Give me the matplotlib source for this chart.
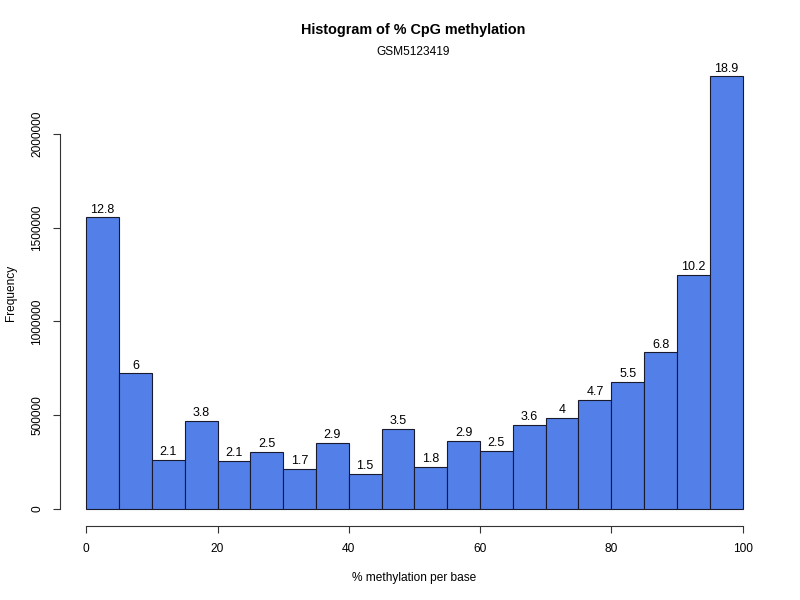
import matplotlib.pyplot as plt
import numpy as np

plt.rcParams["font.family"] = ["Liberation Sans", "DejaVu Sans"]

# histogram of % CpG methylation, bins of 5%
bin_edges = list(range(0, 105, 5))
counts = [1557000, 725000, 261000, 469000, 256000, 304000, 213000, 352000,
          187000, 427000, 224000, 363000, 309000, 448000, 485000, 581000,
          677000, 837000, 1248000, 2309000]
pct_labels = ["12.8", "6", "2.1", "3.8", "2.1", "2.5", "1.7", "2.9", "1.5", "3.5",
              "1.8", "2.9", "2.5", "3.6", "4", "4.7", "5.5", "6.8", "10.2", "18.9"]

fig = plt.figure(figsize=(8, 6), dpi=100)
ax = fig.add_axes([0.075, 0.123, 0.886, 0.779])

lefts = np.array(bin_edges[:-1])
widths = np.diff(bin_edges)
ax.bar(lefts, counts, width=widths, align="edge", color="#527FE8",
       edgecolor="#1a1a2e", linewidth=0.8)

for x, w, c, lab in zip(lefts, widths, counts, pct_labels):
    ax.text(x + w / 2, c + 8000, lab, ha="center", va="bottom", fontsize=9)

ax.set_xlim(-4, 104)
ax.set_ylim(-0.04 * 2309000, 2309000 * 1.04)

for side in ["top", "right"]:
    ax.spines[side].set_visible(False)
ax.spines["left"].set_bounds(0, 2000000)
ax.spines["bottom"].set_bounds(0, 100)
ax.spines["left"].set_color("#333333")
ax.spines["bottom"].set_color("#333333")

ax.set_xticks([0, 20, 40, 60, 80, 100])
ax.set_yticks([0, 500000, 1000000, 1500000, 2000000])
ax.set_yticklabels(["0", "500000", "1000000", "1500000", "2000000"],
                   rotation=90, va="center")
ax.tick_params(axis="both", labelsize=8.6, length=5, colors="#333333",
               labelcolor="black", pad=7)

ax.set_xlabel("% methylation per base", fontsize=8.6, labelpad=12)
ax.set_ylabel("Frequency", fontsize=8.6, labelpad=10)

fig.text(0.517, 0.95, "Histogram of % CpG methylation", ha="center",
         va="center", fontsize=10.4, fontweight="bold")
fig.text(0.517, 0.913, "GSM5123419", ha="center", va="center", fontsize=8.6)

plt.savefig("out.png", dpi=100)
